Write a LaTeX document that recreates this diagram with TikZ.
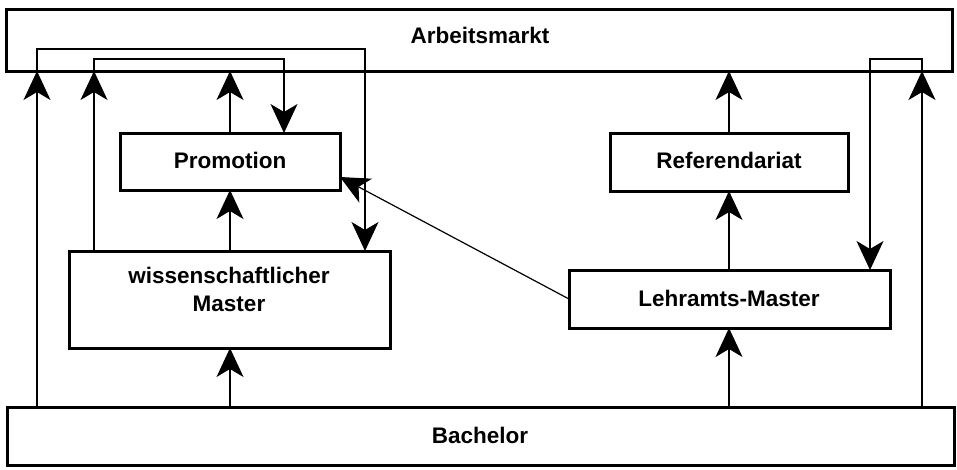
\documentclass[tikz,border=0pt]{standalone}
\usepackage{fontspec}
\setmainfont{Liberation Sans}
\usetikzlibrary{arrows.meta}
\begin{document}
\begin{tikzpicture}[x=1pt,y=-1pt,
  box/.style={draw, line width=3pt, rectangle, inner sep=0pt, outer sep=0pt},
  lbl/.style={font=\fontsize{22.5}{27.5}\selectfont\bfseries, align=center, inner sep=0pt},
  conn/.style={line width=1.2pt},
  arr/.style={conn, -{Stealth[length=29pt, width=27pt, inset=8pt]}}]
\useasboundingbox (0,0) rectangle (957,469);
% boxes
\node[box, minimum width=946pt, minimum height=62pt] (arb) at (479,40) {};
\node[box, minimum width=220pt, minimum height=57pt] (promo) at (230,161.5) {};
\node[box, minimum width=321pt, minimum height=97pt] (wiss) at (229.5,299.5) {};
\node[box, minimum width=321pt, minimum height=58pt] (lehr) at (729.5,299) {};
\node[box, minimum width=238pt, minimum height=58pt] (ref) at (729,162) {};
\node[box, minimum width=947pt, minimum height=58pt] (bach) at (480.5,436) {};
% labels
\node[lbl] (arbt) at (480,35) {Arbeitsmarkt};
\node[lbl] (promot) at (230,160) {Promotion};
\node[lbl] (wisst) at (229,289.5) {wissenschaftlicher\\Master};
\node[lbl] (lehrt) at (729,298) {Lehramts-Master};
\node[lbl] (reft) at (729,160) {Referendariat};
\node[lbl] (bacht) at (480,435) {Bachelor};
% connectors
\draw[arr] (bach.north -| 37,0) -- (arb.south -| 37,0);
\draw[arr] (arb.south -| 37,0) -- (37,49) -- (365,49) -- (wiss.north -| 365,0);
\draw[arr] (wiss.north -| 94,0) -- (arb.south -| 94,0);
\draw[arr] (arb.south -| 94,0) -- (94,59) -- (284,59) -- (promo.north -| 284,0);
\draw[arr] (promo.north) -- (arb.south -| promo.north);
\draw[arr] (wiss.north -| promo.south) -- (promo.south);
\draw[arr] (bach.north -| 230,0) -- (wiss.south -| 230,0);
\draw[arr] (lehr.west) -- (promo.east |- 0,177);
\draw[arr] (ref.north) -- (arb.south -| ref.north);
\draw[arr] (lehr.north -| ref.south) -- (ref.south);
\draw[arr] (bach.north -| 729,0) -- (lehr.south -| 729,0);
\draw[arr] (bach.north -| 922,0) -- (arb.south -| 922,0);
\draw[arr] (arb.south -| 922,0) -- (922,59) -- (870,59) -- (lehr.north -| 870,0);
\end{tikzpicture}
\end{document}
